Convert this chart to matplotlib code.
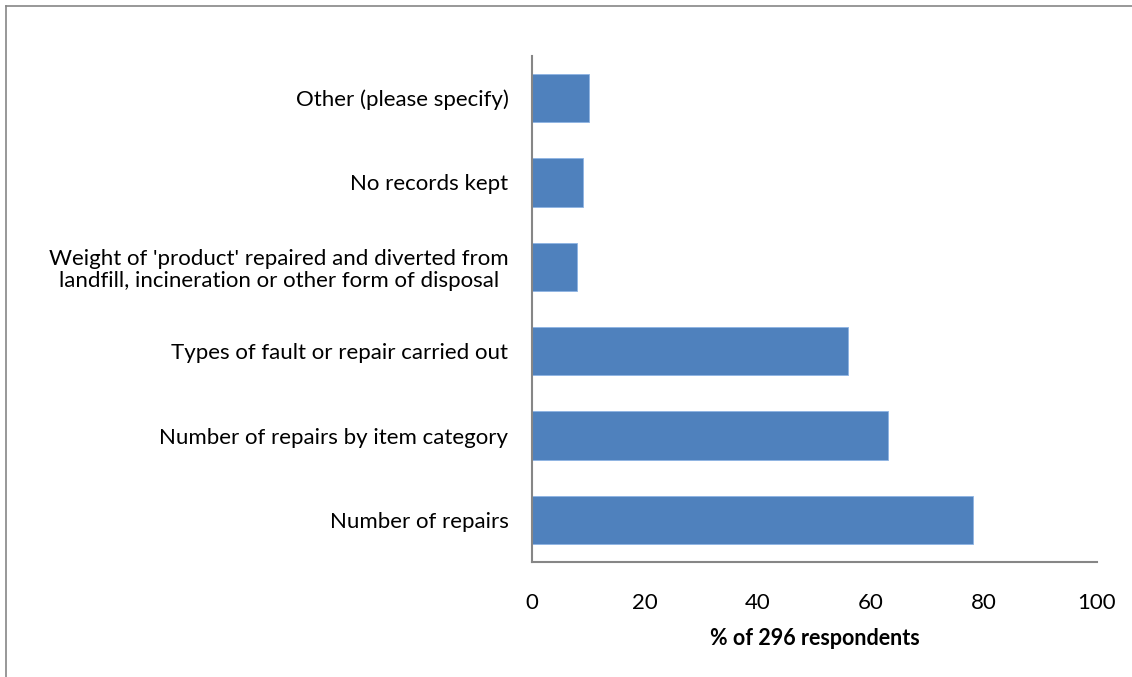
import numpy as np
import matplotlib.pyplot as plt
from matplotlib.lines import Line2D

plt.rcParams['font.family'] = ['Lato', 'DejaVu Sans']

categories = ['Number of repairs',
              'Number of repairs by item category',
              'Types of fault or repair carried out',
              "Weight of 'product' repaired and diverted from\nlandfill, incineration or other form of disposal",
              'No records kept',
              'Other (please specify)']
values = [78, 63, 56, 8, 9, 10]

fig = plt.figure(figsize=(11.32, 6.77), dpi=100)
ax = fig.add_axes([532/1132, 1 - 562/677, (1097 - 532)/1132, (562 - 56)/677])

y = np.arange(len(categories))
ax.barh(y, values, height=0.57, color='#4F81BD', edgecolor='#8EB4E3', linewidth=0.6)

ax.set_xlim(0, 100)
ax.set_ylim(-0.5, len(categories) - 0.5)
ax.set_xticks(np.arange(0, 101, 20))
ax.set_yticks(y)
ax.set_yticklabels(categories, ha='right', multialignment='center', linespacing=1.15)
ax.tick_params(axis='both', length=0, labelsize=16, colors='black')
ax.tick_params(axis='x', pad=22)
ax.tick_params(axis='y', pad=17)
ax.set_xlabel('% of 296 respondents', fontsize=15.5, fontweight='bold', labelpad=11)

for s in ['top', 'right']:
    ax.spines[s].set_visible(False)
for s in ['left', 'bottom']:
    ax.spines[s].set_color('#868686')
    ax.spines[s].set_linewidth(1.5)

# outer chart border (only left and top visible in the reference)
fig.add_artist(Line2D([6/1132, 6/1132], [0, 1 - 6/677], transform=fig.transFigure, color='#868686', lw=1.2))
fig.add_artist(Line2D([6/1132, 1], [1 - 6/677, 1 - 6/677], transform=fig.transFigure, color='#868686', lw=1.2))

fig.savefig('out.png', dpi=100)
